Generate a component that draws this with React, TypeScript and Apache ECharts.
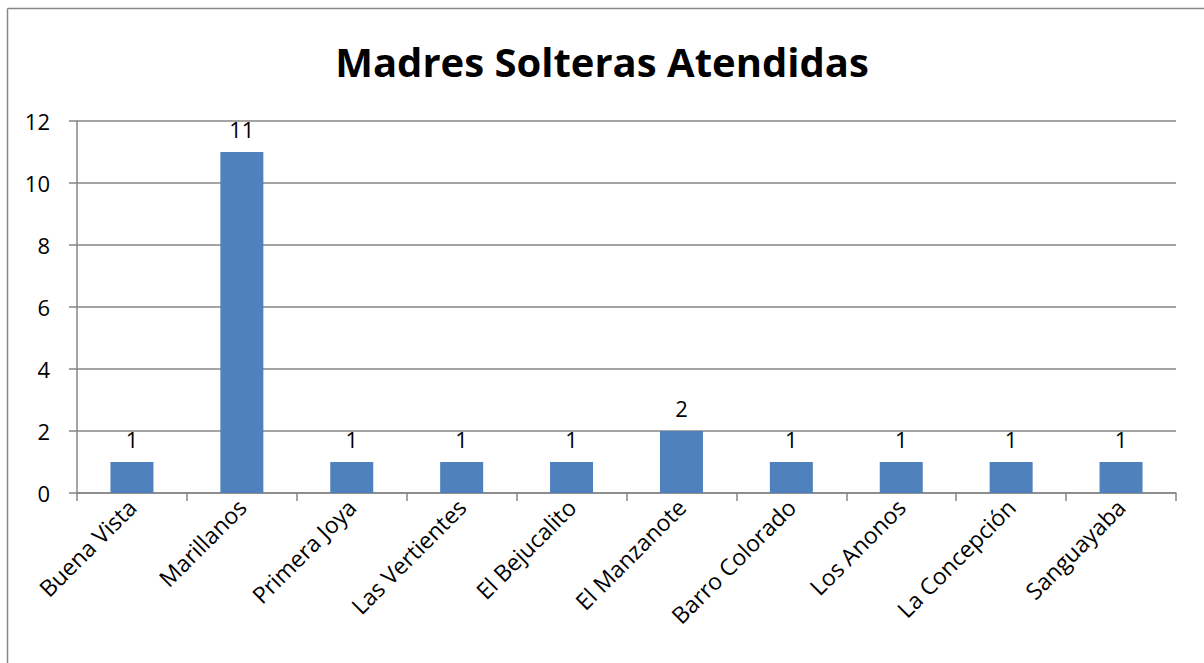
import React, { useEffect, useRef } from "react";
import * as echarts from "echarts";

const categories = [
  "Buena Vista",
  "Marillanos",
  "Primera Joya",
  "Las Vertientes",
  "El Bejucalito",
  "El Manzanote",
  "Barro Colorado",
  "Los Anonos",
  "La Concepción",
  "Sanguayaba",
];
const values = [1, 11, 1, 1, 1, 2, 1, 1, 1, 1];
const titleText = "Madres Solteras Atendidas";

const FONT = "'Open Sans', 'Noto Sans', sans-serif";

export default function App() {
  const ref = useRef<HTMLDivElement>(null);
  useEffect(() => {
    document.body.style.margin = "0";
    const chart = echarts.init(ref.current!, undefined, { renderer: "svg" });
    chart.setOption({
      animation: false,
      backgroundColor: "#ffffff",
      title: {
        text: titleText,
        left: "center",
        top: 36,
        textStyle: { fontFamily: FONT, fontSize: 40, fontWeight: "bold", color: "#000" },
      },
      graphic: [
        { type: "line", shape: { x1: 7.5, y1: 8.5, x2: 1204, y2: 8.5 }, style: { stroke: "#888", lineWidth: 1.5 } },
        { type: "line", shape: { x1: 7.5, y1: 8.5, x2: 7.5, y2: 663 }, style: { stroke: "#888", lineWidth: 1.5 } },
      ],
      grid: { left: 77, right: 28, top: 121, bottom: 170, containLabel: false },
      xAxis: {
        type: "category",
        data: categories,
        axisLine: { lineStyle: { color: "#868686", width: 1.5 } },
        axisTick: { show: true, length: 8, alignWithLabel: false, lineStyle: { color: "#868686", width: 1.5 } },
        axisLabel: {
          rotate: 45,
          interval: 0,
          margin: 10,
          fontFamily: FONT,
          fontSize: 23,
          color: "#000",
        },
      },
      yAxis: {
        type: "value",
        min: 0,
        max: 12,
        interval: 2,
        axisLine: { show: true, lineStyle: { color: "#868686", width: 1.5 } },
        axisTick: { show: true, length: 8, lineStyle: { color: "#868686", width: 1.5 } },
        splitLine: { lineStyle: { color: "#868686", width: 1.5 } },
        axisLabel: { margin: 27, fontFamily: FONT, fontSize: 22, color: "#000" },
      },
      series: [
        {
          type: "bar",
          data: values,
          barWidth: 43,
          itemStyle: { color: "#4F81BD" },
          label: {
            show: true,
            position: "top",
            distance: 12,
            fontFamily: FONT,
            fontSize: 22,
            color: "#000",
          },
        },
      ],
    });
    return () => chart.dispose();
  }, []);
  return <div ref={ref} style={{ width: 1204, height: 663 }} />;
}
